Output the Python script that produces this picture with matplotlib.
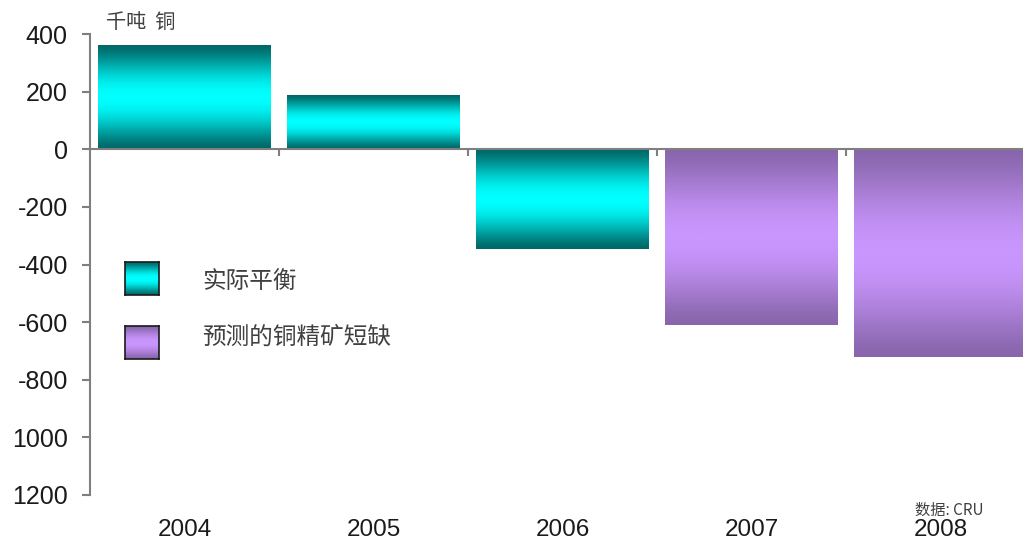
import numpy as np
import matplotlib
matplotlib.use("Agg")
import matplotlib.pyplot as plt
from matplotlib.colors import LinearSegmentedColormap

plt.rcParams['font.family'] = ['Liberation Sans', 'Noto Sans CJK SC', 'DejaVu Sans']

# Copper market balance, thousand tonnes
years = ["2004", "2005", "2006", "2007", "2008"]
values = [358, 185, -345, -610, -720]
kinds = ["actual", "actual", "actual", "forecast", "forecast"]
series_labels = {"actual": "实际平衡", "forecast": "预测的铜精矿短缺"}
y_ticks = [400, 200, 0, -200, -400, -600, -800, -1000, -1200]
y_tick_labels = ["400", "200", "0", "-200", "-400", "-600", "-800", "1000", "1200"]
unit_label = "千吨  铜"
source_label = "数据: CRU"

# Vertical gradients: dark at the top/bottom edges, bright in the middle
gradients = {
    "actual": LinearSegmentedColormap.from_list("teal", ["#006868", "#00FFFF"]),
    "forecast": LinearSegmentedColormap.from_list("lilac", ["#8966ac", "#c996fd"]),
}


def band(n=256):
    t = np.linspace(0, 1, n)
    f = np.sin(np.pi * t) ** 1.4
    return f.reshape(-1, 1)


fig = plt.figure(figsize=(10.23, 5.44), dpi=100)
W, H = 1023, 544
ax = fig.add_axes([90 / W, 1 - 495 / H, 945 / W, 461 / H])

x = np.arange(len(years))
bars = ax.bar(x, values, width=0.915, color="none", edgecolor="none", zorder=2)
for bar, kind in zip(bars, kinds):
    x0, y0 = bar.get_x(), bar.get_y()
    w, h = bar.get_width(), bar.get_height()
    ax.imshow(band(), cmap=gradients[kind], vmin=0, vmax=1, aspect="auto",
              extent=(x0, x0 + w, min(y0, y0 + h), max(y0, y0 + h)),
              origin="lower", interpolation="bilinear", zorder=2)

ax.set_xlim(-0.5, len(years) - 0.5)
ax.set_ylim(-1200, 400)

# Axes styling
spine_col = "#7f7f7f"
for s in ["top", "right"]:
    ax.spines[s].set_visible(False)
ax.spines["left"].set_color(spine_col)
ax.spines["left"].set_linewidth(1.5)
ax.spines["bottom"].set_position(("data", 0))
ax.spines["bottom"].set_color(spine_col)
ax.spines["bottom"].set_linewidth(1.5)
ax.spines["bottom"].set_zorder(3)

ax.set_yticks(y_ticks)
ax.set_yticklabels(y_tick_labels)
ax.tick_params(axis="y", direction="out", length=6, width=1.5, color=spine_col,
               labelsize=18, labelcolor="#1a1a1a", pad=10)
ax.set_xticks(np.arange(len(years) - 1) + 0.5)
ax.set_xticklabels([])
ax.tick_params(axis="x", direction="out", length=5, width=1.5, color=spine_col)

for i, yr in enumerate(years):
    ax.text(i, -0.076, yr, transform=ax.get_xaxis_transform(), ha="center",
            va="center", fontsize=17.5, color="#1a1a1a")

fig.text(106 / W, 1 - 22 / H, unit_label, fontsize=14.5, color="#404040",
         ha="left", va="center", family=["Noto Sans CJK SC"])
fig.text(915 / W, 1 - 510 / H, source_label, fontsize=11, color="#404040",
         ha="left", va="center", family=["Noto Sans CJK SC", "Liberation Sans"])

# Legend swatches and labels
legend_rows = [("actual", 262, 282), ("forecast", 326, 337)]
for kind, top, text_y in legend_rows:
    sw = fig.add_axes([125 / W, 1 - (top + 33) / H, 34 / W, 33 / H])
    sw.imshow(band(), cmap=gradients[kind], vmin=0, vmax=1, aspect="auto",
              origin="lower", interpolation="bilinear")
    sw.set_xticks([])
    sw.set_yticks([])
    for s in sw.spines.values():
        s.set_color("#1a1a1a")
        s.set_linewidth(1.2)
    fig.text(202 / W, 1 - text_y / H, series_labels[kind], fontsize=17,
             color="#404040", ha="left", va="center", family=["Noto Sans CJK SC"])

fig.savefig("out.png", dpi=100)
